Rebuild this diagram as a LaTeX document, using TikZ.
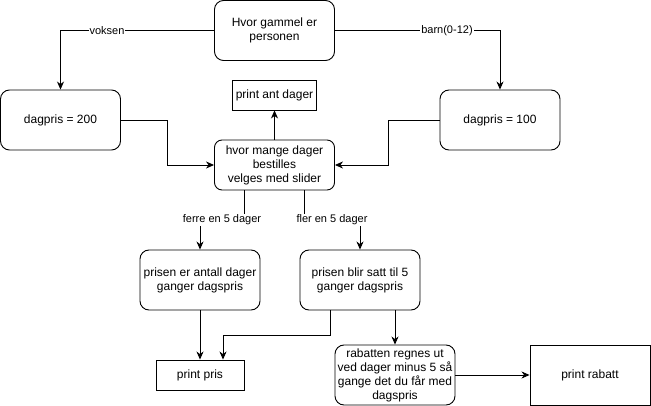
\documentclass[tikz,border=0pt]{standalone}
\usepackage{fontspec}
\setmainfont{Liberation Sans}
\usetikzlibrary{arrows.meta}
\begin{document}
\begin{tikzpicture}[x=1pt,y=-1pt,
  box/.style={draw, line width=0.9pt, inner sep=0pt, align=center, font=\fontsize{12}{14}\selectfont},
  rbox/.style={box, rounded corners=9pt, minimum width=120pt, minimum height=60pt},
  sbox/.style={box, minimum height=30pt},
  arr/.style={line width=0.9pt, -{Stealth[length=8pt,width=7pt,inset=2.5pt]}},
  ln/.style={line width=0.9pt},
  lbl/.style={fill=white, inner sep=1pt, font=\fontsize{11}{13}\selectfont}]
\useasboundingbox (0,0) rectangle (651,406);
\node[rbox] (top) at (274.5,30.5) {Hvor gammel er\\personen};
\node[rbox] (d200) at (60.5,120) {dagpris = 200};
\node[rbox] (d100) at (500,120) {dagpris = 100};
\node[sbox, minimum width=84pt] (pad) at (274.5,95) {print ant dager};
\node[rbox, minimum height=50pt, rounded corners=7.5pt] (hvm) at (274.5,165) {hvor mange dager\\bestilles\\velges med slider};
\node[rbox] (p1) at (200,280) {prisen er antall dager\\ganger dagspris};
\node[rbox] (p2) at (360,280) {prisen blir satt til 5\\ganger dagspris};
\node[sbox, minimum width=88pt] (pp) at (200,375) {print pris};
\node[rbox] (rab) at (395,375) {rabatten regnes ut\\ved dager minus 5 så\\gange det du får med\\dagspris};
\node[sbox, minimum width=120pt, minimum height=60pt] (pr) at (590,375) {print rabatt};
% edges
\draw[arr] (top.west) -- (107,30.5) node[lbl]{voksen} -| (d200.north);
\draw[arr] (top.east) -- (447,30.5) node[lbl]{barn(0-12)} -| (d100.north);
\draw[arr] (d200.east) -- (167,120) |- (hvm.west);
\draw[arr] (d100.west) -- (388,120) |- (hvm.east);
\draw[arr] (hvm.north) -- (pad.south);
\draw[arr] ([xshift=-30.5pt]hvm.south) |- (222,220) node[lbl]{ferre en 5 dager} -| (p1.north);
\draw[arr] ([xshift=29.5pt]hvm.south) |- (332,220) node[lbl]{fler en 5 dager} -| (p2.north);
\draw[arr] (p1.south) -- (pp.north);
\draw[arr] ([xshift=-30pt]p2.south) -- ++(0,25) -| ([xshift=23pt]pp.north);
\draw[arr] (rab.north |- p2.south) -- (rab.north);
\draw[arr] (rab.east) -- (pr.west);
\end{tikzpicture}
\end{document}
